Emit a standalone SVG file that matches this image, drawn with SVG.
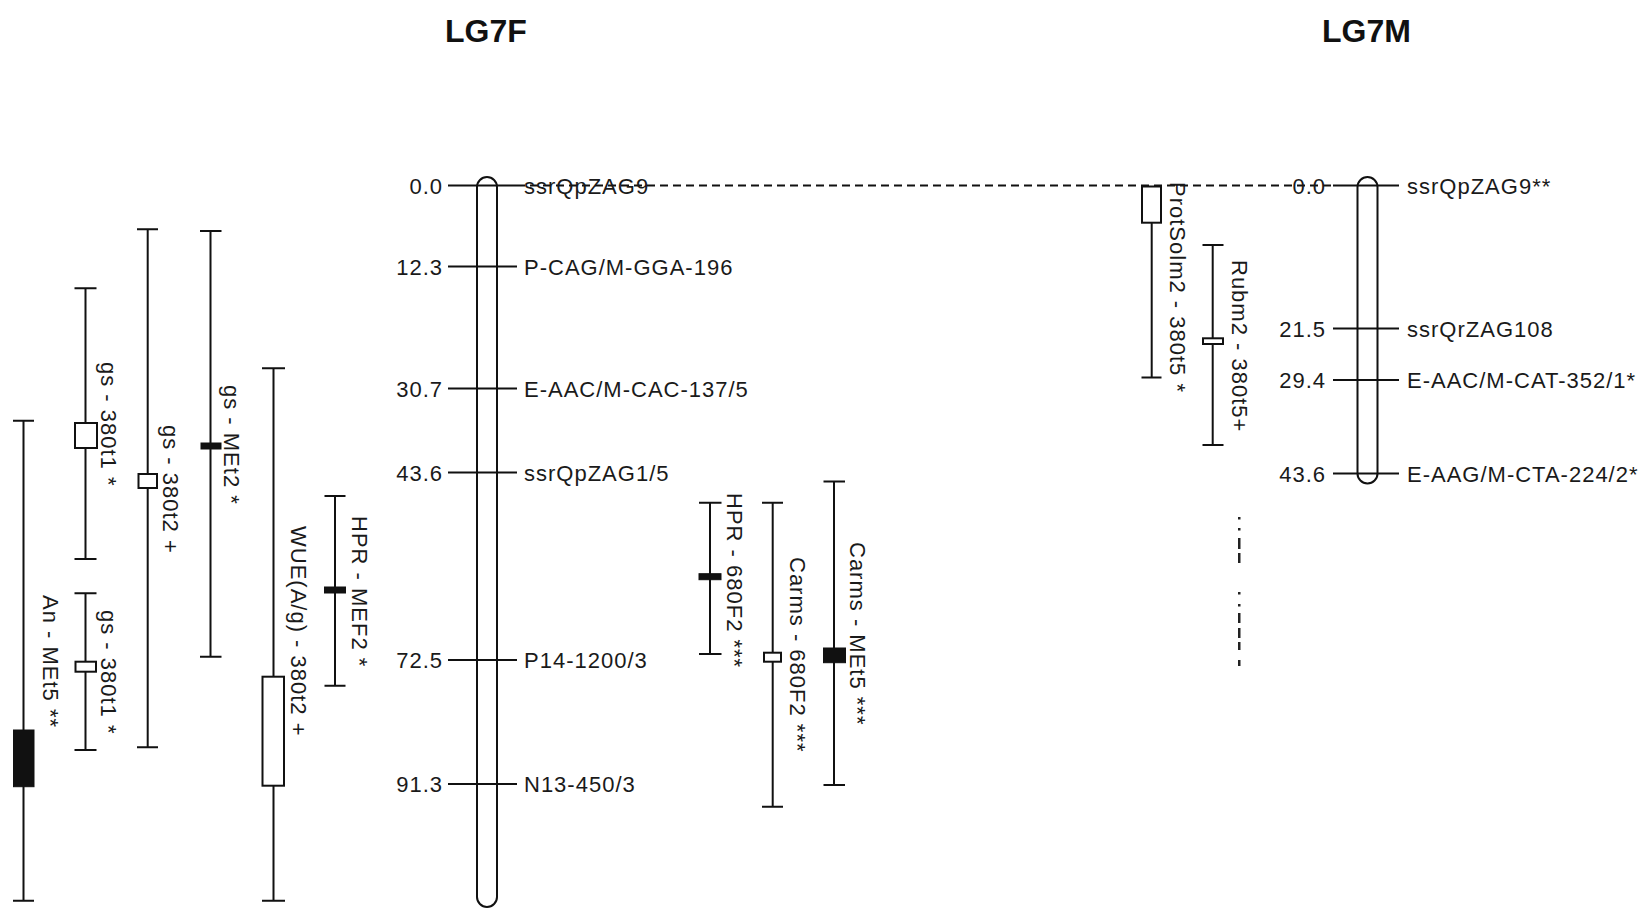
<svg xmlns="http://www.w3.org/2000/svg" width="1641" height="909" viewBox="0 0 1641 909">
<style>
.t{font-family:"Liberation Sans",Arial,sans-serif;font-size:22px;letter-spacing:1px;fill:#1a1a1a}
.n{text-anchor:end}
.h{font-family:"Liberation Sans",Arial,sans-serif;font-size:32px;font-weight:bold;fill:#111}
.ln{stroke:#111;stroke-width:2;fill:none}
.chr{stroke:#111;stroke-width:2;fill:#fff}
.wb{stroke:#111;stroke-width:2;fill:#fff}
.bb{stroke:#111;stroke-width:1;fill:#111}
.art{fill:#222}
</style>
<rect width="1641" height="909" fill="#fff"/>
<text class="h" x="445" y="42">LG7F</text>
<text class="h" x="1322" y="42">LG7M</text>

<g id="connectors">
<line class="ln" x1="517" y1="185.5" x2="1333" y2="185.5" stroke-dasharray="8 5"/>
</g>

<g id="LG7F">
<rect class="chr" x="477" y="177" width="20" height="730" rx="10"/>
<g class="ln">
<line x1="448" y1="185.5" x2="517" y2="185.5"/>
<line x1="448" y1="266.5" x2="517" y2="266.5"/>
<line x1="448" y1="388.5" x2="517" y2="388.5"/>
<line x1="448" y1="472.5" x2="517" y2="472.5"/>
<line x1="448" y1="660" x2="517" y2="660"/>
<line x1="448" y1="784" x2="517" y2="784"/>
</g>
<text class="t n" x="443" y="193.5">0.0</text>
<text class="t n" x="443" y="274.5">12.3</text>
<text class="t n" x="443" y="396.5">30.7</text>
<text class="t n" x="443" y="480.5">43.6</text>
<text class="t n" x="443" y="668">72.5</text>
<text class="t n" x="443" y="792">91.3</text>
<text class="t" x="524" y="193.5">ssrQpZAG9</text>
<text class="t" x="524" y="274.5">P-CAG/M-GGA-196</text>
<text class="t" x="524" y="396.5">E-AAC/M-CAC-137/5</text>
<text class="t" x="524" y="480.5">ssrQpZAG1/5</text>
<text class="t" x="524" y="668">P14-1200/3</text>
<text class="t" x="524" y="792">N13-450/3</text>
</g>

<g id="LG7M">
<rect class="chr" x="1357.5" y="177" width="20" height="306.5" rx="10"/>
<g class="ln">
<line x1="1333" y1="185.5" x2="1399" y2="185.5"/>
<line x1="1333" y1="328.5" x2="1399" y2="328.5"/>
<line x1="1333" y1="380" x2="1399" y2="380"/>
<line x1="1333" y1="473.5" x2="1399" y2="473.5"/>
</g>
<text class="t n" x="1326" y="193.5">0.0</text>
<text class="t n" x="1326" y="336.5">21.5</text>
<text class="t n" x="1326" y="388">29.4</text>
<text class="t n" x="1326" y="481.5">43.6</text>
<text class="t" x="1407" y="193.5">ssrQpZAG9**</text>
<text class="t" x="1407" y="336.5">ssrQrZAG108</text>
<text class="t" x="1407" y="388">E-AAC/M-CAT-352/1*</text>
<text class="t" x="1407" y="481.5">E-AAG/M-CTA-224/2*</text>
</g>

<g id="qtl-An-MEt5">
<path class="ln" d="M23.5 420.7V900.7M13 420.7H34M13 900.7H34"/>
<rect class="bb" x="13.5" y="730" width="20.5" height="56.7"/>
<text class="t" transform="translate(43,595) rotate(90)">An - MEt5 **</text>
</g>
<g id="qtl-gs-380t1-a">
<path class="ln" d="M85.5 288.3V559M74.5 288.3H96.5M74.5 559H96.5"/>
<rect class="wb" x="75" y="423" width="22" height="25"/>
<text class="t" transform="translate(101,362) rotate(90)">gs - 380t1 *</text>
</g>
<g id="qtl-gs-380t1-b">
<path class="ln" d="M85.5 593.3V750M74.5 593.3H96.5M74.5 750H96.5"/>
<rect class="wb" x="75.5" y="661.7" width="20.5" height="10"/>
<text class="t" transform="translate(101,610) rotate(90)">gs - 380t1 *</text>
</g>
<g id="qtl-gs-380t2">
<path class="ln" d="M147.7 229.3V747.3M137 229.3H158M137 747.3H158"/>
<rect class="wb" x="138.5" y="474" width="18.5" height="14"/>
<text class="t" transform="translate(163,425) rotate(90)">gs - 380t2 +</text>
</g>
<g id="qtl-gs-MEt2">
<path class="ln" d="M210.5 231V656.7M200 231H221.5M200 656.7H221.5"/>
<rect class="bb" x="201" y="443" width="20" height="6"/>
<text class="t" transform="translate(224,385) rotate(90)">gs - MEt2 *</text>
</g>
<g id="qtl-WUE">
<path class="ln" d="M273.5 368.3V900.7M262 368.3H285M262 900.7H285"/>
<rect class="wb" x="262.5" y="676.7" width="21.5" height="109"/>
<text class="t" transform="translate(291,526) rotate(90)">WUE(A/g) - 380t2 +</text>
</g>
<g id="qtl-HPR-MEF2">
<path class="ln" d="M335 496V685.7M324.5 496H345.5M324.5 685.7H345.5"/>
<rect class="bb" x="324.5" y="587" width="21" height="6"/>
<text class="t" transform="translate(352,516) rotate(90)">HPR - MEF2 *</text>
</g>
<g id="qtl-HPR-680F2">
<path class="ln" d="M710 502.7V654M699 502.7H721.5M699 654H721.5"/>
<rect class="bb" x="699" y="573.7" width="22" height="6"/>
<text class="t" transform="translate(727,493) rotate(90)">HPR - 680F2 ***</text>
</g>
<g id="qtl-Carms-680F2">
<path class="ln" d="M772.7 502.7V806.7M762 502.7H783M762 806.7H783"/>
<rect class="wb" x="764" y="652.7" width="17" height="9"/>
<text class="t" transform="translate(790,557) rotate(90)">Carms - 680F2 ***</text>
</g>
<g id="qtl-Carms-MEt5">
<path class="ln" d="M834 481.5V785M823.5 481.5H845M823.5 785H845"/>
<rect class="bb" x="823.5" y="648" width="22" height="14.7"/>
<text class="t" transform="translate(850,542) rotate(90)">Carms - MEt5 ***</text>
</g>
<g id="qtl-ProtSolm2">
<path class="ln" d="M1151.7 222.7V377.5M1141.5 377.5H1161.5"/>
<rect class="wb" x="1142" y="186.5" width="19" height="36.2"/>
<text class="t" transform="translate(1170,182) rotate(90)">ProtSolm2 - 380t5 *</text>
</g>
<g id="qtl-Rubm2">
<path class="ln" d="M1212.7 245V445M1202.5 245H1223.5M1202.5 445H1223.5"/>
<rect class="wb" x="1203" y="338.3" width="20" height="5.7"/>
<text class="t" transform="translate(1231.5,260) rotate(90)">Rubm2 - 380t5+</text>
</g>

<g id="fragments" class="art">
<rect x="1238" y="517" width="2.5" height="2.5"/>
<rect x="1238" y="528" width="2.5" height="2.5"/>
<rect x="1238" y="538" width="2.5" height="11"/>
<rect x="1238" y="553" width="2.5" height="10"/>
<rect x="1238" y="592" width="2.5" height="2.5"/>
<rect x="1238" y="604" width="2.5" height="2.5"/>
<rect x="1238" y="613" width="2.5" height="10"/>
<rect x="1238" y="628" width="2.5" height="10"/>
<rect x="1238" y="642" width="2.5" height="8"/>
<rect x="1238" y="660" width="2.5" height="6"/>
</g>
</svg>
